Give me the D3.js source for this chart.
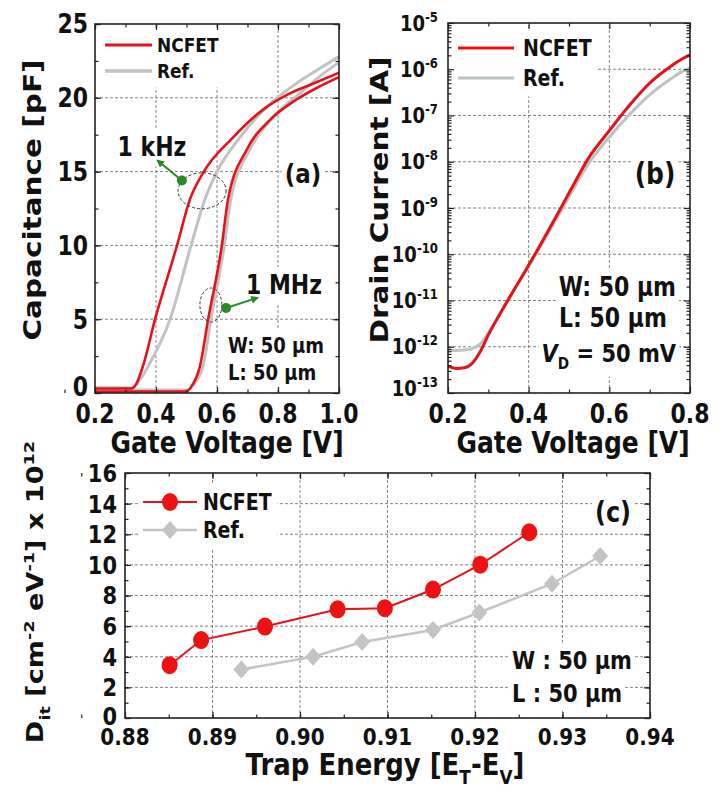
<!DOCTYPE html>
<html>
<head>
<meta charset="utf-8">
<script src="https://cdn.jsdelivr.net/npm/d3@7"></script>
<style>
body { margin: 0; background: #fff; }
text { font-family: "DejaVu Sans", Verdana, sans-serif; font-weight: bold; fill: #111; }
</style>
</head>
<body>
<svg id="fig" width="722" height="792"></svg>
<script>
// Values.

// (a) C-V curves, gate voltage [V] and capacitance [pF]
var aNcfetKhzV = [0.20, 0.32, 0.335, 0.357, 0.397, 0.469, 0.511, 0.554, 0.652, 0.751, 0.839, 0.92, 1.00];
var aNcfetKhzC = [0.30, 0.30, 0.6, 1.8, 5.0, 10.0, 13.1, 14.9, 17.3, 19.2, 20.3, 21.0, 21.7];
var aRefKhzV = [0.20, 0.32, 0.348, 0.374, 0.446, 0.515, 0.56, 0.60, 0.675, 0.764, 0.862, 0.93, 1.00];
var aRefKhzC = [0.35, 0.35, 0.9, 1.8, 5.0, 10.0, 13.1, 15.0, 17.3, 19.4, 21.0, 21.9, 22.8];
var aNcfetMhzV = [0.20, 0.50, 0.515, 0.544, 0.571, 0.616, 0.636, 0.698, 0.774, 0.862, 0.93, 1.00];
var aNcfetMhzC = [0.10, 0.10, 0.4, 1.8, 5.0, 10.0, 13.1, 16.5, 18.5, 19.9, 20.7, 21.4];
var aRefMhzV = [0.20, 0.50, 0.52, 0.554, 0.58, 0.624, 0.645, 0.708, 0.784, 0.872, 0.94, 1.00];
var aRefMhzC = [0.20, 0.20, 0.5, 1.8, 5.0, 10.0, 13.1, 16.5, 18.7, 20.3, 21.5, 22.4];

// (b) transfer curves, gate voltage [V] and drain current [A]
var bVolt = [0.20, 0.22, 0.24, 0.26, 0.28, 0.30, 0.35, 0.40, 0.45, 0.50, 0.55, 0.60, 0.65, 0.70, 0.75, 0.78, 0.80];
var bNcfet = [3.8e-13, 3.4e-13, 3.5e-13, 4.4e-13, 7.9e-13, 1.8e-12, 1.07e-11, 5.8e-11, 3.4e-10, 2.1e-9, 1.26e-8, 4.7e-8, 1.66e-7, 5.0e-7, 1.12e-6, 1.66e-6, 2.04e-6];
var bRef = [8.3e-13, 8.3e-13, 8.5e-13, 9.1e-13, 1.15e-12, 2.0e-12, 1.07e-11, 5.6e-11, 3.0e-10, 1.74e-9, 9.5e-9, 3.4e-8, 1.05e-7, 2.8e-7, 6.0e-7, 8.9e-7, 1.07e-6];

// (c) interface trap density, trap energy and Dit [x 1e12 cm^-2 eV^-1]
var cNcfetE = [0.8851, 0.8887, 0.8960, 0.9043, 0.9097, 0.9152, 0.9206, 0.9262];
var cNcfetD = [3.45, 5.09, 5.97, 7.10, 7.17, 8.39, 10.01, 12.13];
var cRefE = [0.8933, 0.9015, 0.9071, 0.9152, 0.9205, 0.9288, 0.9343];
var cRefD = [3.17, 4.00, 4.96, 5.75, 6.89, 8.77, 10.58];

// tick labels
var aXTicks = [0.2, 0.4, 0.6, 0.8, 1.0];
var aYTicks = [0, 5, 10, 15, 20, 25];
var bXTicks = [0.2, 0.4, 0.6, 0.8];
var bYExps = [-13, -12, -11, -10, -9, -8, -7, -6, -5];
var cXTicks = [0.88, 0.89, 0.90, 0.91, 0.92, 0.93, 0.94];
var cYTicks = [0, 2, 4, 6, 8, 10, 12, 14, 16];

var RED = '#e3121b', GRAY = '#c2c2c2', GREEN = '#2a8a2a';
// the reference text is drawn taller than it is wide
var SY = 1.18;

var svg = d3.select('#fig');
svg.append('defs').append('marker')
	.attr('id', 'arr').attr('viewBox', '0 0 10 10')
	.attr('refX', 8).attr('refY', 5)
	.attr('markerWidth', 4).attr('markerHeight', 4)
	.attr('orient', 'auto')
	.append('path').attr('d', 'M0,0 L10,5 L0,10 Z').attr('fill', GREEN);

function zip(a, b) {
	return a.map(function(v, i) { return [v, b[i]]; });
}

// Text with sub/superscript parts, stretched vertically like the reference.
function txt(g, x, y, parts, size, anchor, rot) {
	var t = g.append('text')
		.attr('transform', 'translate(' + x + ',' + y + ') scale(1,' + SY + ')' + (rot ? ' rotate(-90)' : ''))
		.attr('font-size', size)
		.attr('text-anchor', anchor || 'start')
		.attr('dy', '0.36em');
	var shift = 0;
	parts.forEach(function(p) {
		if (typeof p === 'string') p = {t: p};
		var want = p.k === 'sup' ? -0.42 * size : (p.k === 'sub' ? 0.3 * size : 0);
		var s = t.append('tspan').text(p.t);
		if (want - shift !== 0) s.attr('dy', want - shift);
		shift = want;
		if (p.k === 'sup' || p.k === 'sub') s.attr('font-size', size * 0.65);
		if (p.i) s.attr('font-style', 'italic');
	});
	return t;
}

// White box behind a text or a group, same transform.
function boxBehind(layer, node, pad) {
	var bb = node.node().getBBox();
	layer.append('rect')
		.attr('transform', node.attr('transform'))
		.attr('x', bb.x - pad).attr('y', bb.y - pad)
		.attr('width', bb.width + 2 * pad).attr('height', bb.height + 2 * pad)
		.attr('fill', '#fff');
}

function panel(x, y) {
	var p = {x: x, y: y};
	p.grid = svg.append('g');
	p.box = svg.append('g');
	p.plot = svg.append('g');
	p.axes = svg.append('g');
	p.text = svg.append('g');
	return p;
}

function grid(p, xv, yv) {
	var xr = p.x.range(), yr = p.y.range();
	p.grid.selectAll(null).data(xv).enter().append('line')
		.attr('x1', p.x).attr('x2', p.x).attr('y1', yr[0]).attr('y2', yr[1]);
	p.grid.selectAll(null).data(yv).enter().append('line')
		.attr('y1', p.y).attr('y2', p.y).attr('x1', xr[0]).attr('x2', xr[1]);
	p.grid.selectAll('line')
		.attr('stroke', '#777').attr('stroke-width', 0.9).attr('stroke-dasharray', '3,2');
}

function frame(p, xMaj, xMin, yMaj, yMin) {
	var xr = p.x.range(), yr = p.y.range();
	function put(axis, vals, size, tr) {
		p.axes.append('g').attr('transform', tr)
			.call(axis.tickValues(vals).tickSize(-size).tickFormat(''))
			.call(function(s) {
				s.select('.domain').remove();
				s.selectAll('line').attr('stroke', '#222').attr('stroke-width', 1.2);
			});
	}
	[[xMaj, 6], [xMin, 3.5]].forEach(function(d) {
		put(d3.axisBottom(p.x), d[0], d[1], 'translate(0,' + yr[0] + ')');
		put(d3.axisTop(p.x), d[0], d[1], 'translate(0,' + yr[1] + ')');
	});
	[[yMaj, 6], [yMin, 3.5]].forEach(function(d) {
		put(d3.axisLeft(p.y), d[0], d[1], 'translate(' + xr[0] + ',0)');
		put(d3.axisRight(p.y), d[0], d[1], 'translate(' + xr[1] + ',0)');
	});
	p.axes.append('rect')
		.attr('x', xr[0]).attr('y', yr[1])
		.attr('width', xr[1] - xr[0]).attr('height', yr[0] - yr[1])
		.attr('fill', 'none').attr('stroke', '#222').attr('stroke-width', 1.6);
}

function curve(p, pts, color, w) {
	p.plot.append('path').datum(pts)
		.attr('fill', 'none').attr('stroke', color).attr('stroke-width', w)
		.attr('stroke-linejoin', 'round')
		.attr('d', d3.line().x(function(d) { return p.x(d[0]); }).y(function(d) { return p.y(d[1]); })
			.curve(d3.curveMonotoneX));
}

function legend(p, items, x0, x1, xt, size) {
	var g = p.text.append('g');
	items.forEach(function(it) {
		g.append('line').attr('x1', x0).attr('x2', x1).attr('y1', it.y).attr('y2', it.y)
			.attr('stroke', it.color).attr('stroke-width', it.w);
		if (it.sym) it.sym(g, (x0 + x1) / 2, it.y);
		txt(g, xt, it.y, [it.name], size);
	});
	g.attr('transform', 'translate(0,0)');
	boxBehind(p.box, g, 5);
}

function range(a, b, s) {
	return d3.range(Math.round(a / s), Math.round(b / s) + 1).map(function(i) { return +(i * s).toFixed(4); });
}

// ---------- (a) ----------
var pa = panel(d3.scaleLinear([0.2, 1.0], [95, 339]), d3.scaleLinear([0, 25], [393, 24]));
grid(pa, [0.4, 0.6, 0.8], [5, 10, 15, 20]);
curve(pa, zip(aRefKhzV, aRefKhzC), GRAY, 3);
curve(pa, zip(aRefMhzV, aRefMhzC), GRAY, 3);
curve(pa, zip(aNcfetKhzV, aNcfetKhzC), RED, 2.6);
curve(pa, zip(aNcfetMhzV, aNcfetMhzC), RED, 2.6);
frame(pa, aXTicks, range(0.1, 1.0, 0.1), aYTicks, range(0, 25, 2.5));

aXTicks.forEach(function(v) { txt(pa.text, pa.x(v), 414, [d3.format('.1f')(v)], 22, 'middle'); });
aYTicks.forEach(function(v) { txt(pa.text, 88, pa.y(v) - (v === 0 ? 6 : 0), [String(v)], 22, 'end'); });
txt(pa.text, 227, 442, ['Gate Voltage [V]'], 25, 'middle');
txt(pa.text, 32, 200, ['Capacitance [pF]'], 25, 'middle', true);
legend(pa, [{y: 45, color: RED, w: 3, name: 'NCFET'}, {y: 71, color: GRAY, w: 3.5, name: 'Ref.'}], 105, 152, 157, 17);

// frequency markers: dashed ellipses and green arrows
function freqMark(p, c, rx, ry, dot, tip) {
	p.plot.append('ellipse')
		.attr('cx', p.x(c[0])).attr('cy', p.y(c[1])).attr('rx', rx).attr('ry', ry)
		.attr('fill', 'none').attr('stroke', '#333').attr('stroke-width', 1).attr('stroke-dasharray', '3,2');
	p.plot.append('line')
		.attr('x1', p.x(dot[0])).attr('y1', p.y(dot[1])).attr('x2', p.x(tip[0])).attr('y2', p.y(tip[1]))
		.attr('stroke', GREEN).attr('stroke-width', 2).attr('marker-end', 'url(#arr)');
	p.plot.append('circle').attr('cx', p.x(dot[0])).attr('cy', p.y(dot[1])).attr('r', 5).attr('fill', GREEN);
}
freqMark(pa, [0.551, 13.7], 24, 18, [0.485, 14.4], [0.405, 15.75]);
freqMark(pa, [0.580, 5.96], 11, 17, [0.630, 5.76], [0.733, 6.45]);

[[['1 kHz'], 152, 147, 22, 'middle'], [['(a)'], 303, 173, 23, 'middle'], [['1 MHz'], 284, 285, 22, 'middle'],
 [['W: 50 \u03bcm'], 228, 345, 18, 'start'], [['L: 50 \u03bcm'], 228, 372, 18, 'start']].forEach(function(d) {
	boxBehind(pa.box, txt(pa.text, d[1], d[2], d[0], d[3], d[4]), 3);
});

// ---------- (b) ----------
var pb = panel(d3.scaleLinear([0.2, 0.8], [448, 690]), d3.scaleLog([1e-13, 1e-5], [393, 23]));
var bDecades = bYExps.map(function(e) { return Math.pow(10, e); });
var bMinor = [];
bDecades.slice(0, -1).forEach(function(d) { for (var k = 2; k < 10; k++) bMinor.push(d * k); });
grid(pb, [0.4, 0.6], bDecades.slice(1, -1));
curve(pb, zip(bVolt, bRef), '#bcc4be', 3);
curve(pb, zip(bVolt, bNcfet), RED, 3);
frame(pb, bXTicks, [0.3, 0.5, 0.7], bDecades, bMinor);

bXTicks.forEach(function(v) { txt(pb.text, pb.x(v), 414, [d3.format('.1f')(v)], 22, 'middle'); });
bYExps.forEach(function(e) {
	txt(pb.text, 438, pb.y(Math.pow(10, e)) - (e === -13 ? 5 : 0), ['10', {t: String(e), k: 'sup'}], 18, 'end');
});
txt(pb.text, 573, 442, ['Gate Voltage [V]'], 25, 'middle');
txt(pb.text, 379, 200, ['Drain Current [A]'], 25, 'middle', true);
legend(pb, [{y: 48, color: RED, w: 3, name: 'NCFET'}, {y: 78, color: '#bcc4be', w: 3, name: 'Ref.'}], 458, 514, 523, 19);

[[['(b)'], 655, 173, 25, 'middle'], [['W: 50 \u03bcm'], 676, 287, 22, 'end'], [['L: 50 \u03bcm'], 559, 318, 22, 'start'],
 [[{t: 'V', i: true}, {t: 'D', k: 'sub'}, ' = 50 mV'], 676, 353, 21, 'end']].forEach(function(d) {
	boxBehind(pb.box, txt(pb.text, d[1], d[2], d[0], d[3], d[4]), 3);
});

// ---------- (c) ----------
var pc = panel(d3.scaleLinear([0.88, 0.94], [125, 650]), d3.scaleLinear([0, 16], [718, 473]));
grid(pc, cXTicks.slice(1, -1), cYTicks.slice(1, -1));
frame(pc, cXTicks, range(0.875, 0.94, 0.005), cYTicks, range(0, 16, 1));

function diamond(g, x, y) {
	g.append('path').attr('d', 'M' + x + ',' + (y - 9) + 'L' + (x + 8) + ',' + y + 'L' + x + ',' + (y + 9) + 'L' + (x - 8) + ',' + y + 'Z')
		.attr('fill', '#c4c4c4');
}
function dot(g, x, y) {
	g.append('ellipse').attr('cx', x).attr('cy', y).attr('rx', 8).attr('ry', 9).attr('fill', '#ee1111');
}
var lineC = d3.line().x(function(d) { return pc.x(d[0]); }).y(function(d) { return pc.y(d[1]); });
pc.plot.append('path').datum(zip(cRefE, cRefD)).attr('fill', 'none').attr('stroke', '#c4c4c4').attr('stroke-width', 2.5).attr('d', lineC);
zip(cRefE, cRefD).forEach(function(d) { diamond(pc.plot, pc.x(d[0]), pc.y(d[1])); });
pc.plot.append('path').datum(zip(cNcfetE, cNcfetD)).attr('fill', 'none').attr('stroke', RED).attr('stroke-width', 2).attr('d', lineC);
zip(cNcfetE, cNcfetD).forEach(function(d) { dot(pc.plot, pc.x(d[0]), pc.y(d[1])); });

cXTicks.forEach(function(v) { txt(pc.text, pc.x(v), 737, [d3.format('.2f')(v)], 20, 'middle'); });
cYTicks.forEach(function(v) { txt(pc.text, 117, pc.y(v) - (v === 0 ? 2 : 0), [String(v)], 21, 'end'); });
txt(pc.text, 385, 764, ['Trap Energy [E', {t: 'T', k: 'sub'}, '-E', {t: 'V', k: 'sub'}, ']'], 26, 'middle');
txt(pc.text, 35, 592, ['D', {t: 'it', k: 'sub'}, ' [cm', {t: '-2', k: 'sup'}, ' eV', {t: '-1', k: 'sup'}, '] x 10', {t: '12', k: 'sup'}], 23, 'middle', true);
legend(pc, [{y: 502, color: RED, w: 2, name: 'NCFET', sym: dot}, {y: 530, color: '#c4c4c4', w: 2.5, name: 'Ref.', sym: diamond}], 143, 197, 203, 19);

[[['(c)'], 613, 512, 24, 'middle'], [['W : 50 \u03bcm'], 512, 660, 21, 'start'], [['L : 50 \u03bcm'], 512, 693, 21, 'start']].forEach(function(d) {
	boxBehind(pc.box, txt(pc.text, d[1], d[2], d[0], d[3], d[4]), 3);
});
</script>
</body>
</html>
